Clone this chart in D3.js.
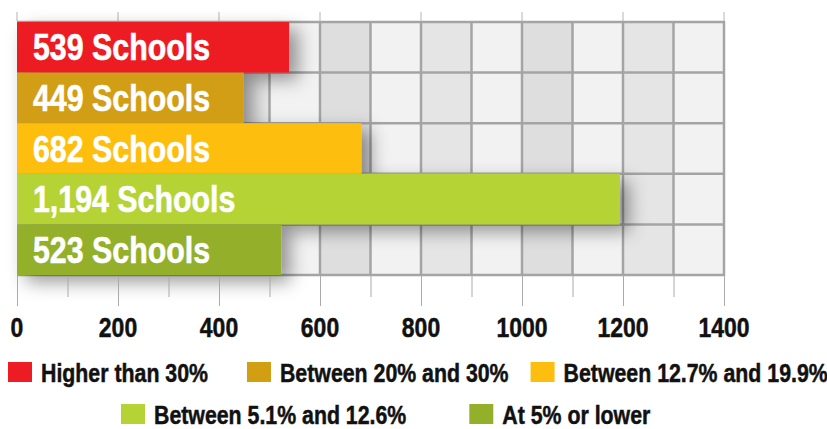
<!DOCTYPE html>
<html>
<head>
<meta charset="utf-8">
<script src="https://cdn.jsdelivr.net/npm/d3@7.9.0/dist/d3.min.js"></script>
<style>
  html, body { margin: 0; padding: 0; background: #fff; }
  svg { display: block; font-family: "Liberation Sans", Arial, sans-serif; font-weight: bold; }
</style>
</head>
<body>
<svg id="chart" width="827" height="429"></svg>
<script>
// data
const categories = ['Higher than 30%', 'Between 20% and 30%', 'Between 12.7% and 19.9%', 'Between 5.1% and 12.6%', 'At 5% or lower'];
const schools = [539, 449, 682, 1194, 523];
const barLabels = ['539 Schools', '449 Schools', '682 Schools', '1,194 Schools', '523 Schools'];
const colors = ['#ed1c24', '#d29e12', '#fdbe10', '#b5d334', '#94b02b'];
const tickValues = [0, 200, 400, 600, 800, 1000, 1200, 1400];

// no narrow font installed, so squeeze Liberation Sans like Arial Narrow
const NARROW = 0.82;

const svg = d3.select('#chart');
const defs = svg.append('defs');
const shadow = defs.append('filter').attr('id', 'shadow')
  .attr('x', '-20%').attr('y', '-30%').attr('width', '160%').attr('height', '200%');
shadow.append('feDropShadow')
  .attr('dx', 9).attr('dy', 7).attr('stdDeviation', 9)
  .attr('flood-color', '#000').attr('flood-opacity', 0.4);

let x = d3.scaleLinear().domain([0, 1400]).range([17, 724]);
let y = d3.scaleBand().domain(categories).range([22, 275]).padding(0);

const plotTop = 21, plotBottom = 276;

// background columns, one per 100
const cols = d3.range(0, 1400, 100);
const shade = (v) => {
  if ((v / 100) % 2 === 1) return '#f2f2f2';
  return (v / 200) % 2 === 1 ? '#dedede' : '#e5e5e5';
};
svg.append('g').selectAll('rect').data(cols).join('rect')
  .attr('x', d => x(d)).attr('y', plotTop)
  .attr('width', x(100) - x(0)).attr('height', plotBottom - plotTop)
  .attr('fill', shade);

// grid
const grid = svg.append('g').attr('stroke', '#a4a4a4').attr('stroke-width', 2.5);
grid.selectAll('line.v').data(d3.range(100, 1500, 100)).join('line')
  .attr('class', 'v')
  .attr('x1', d => x(d)).attr('x2', d => x(d))
  .attr('y1', plotTop).attr('y2', plotBottom);
const rowEdges = categories.map(c => y(c)).concat([y.range()[1]]);
grid.selectAll('line.h').data(rowEdges).join('line')
  .attr('class', 'h')
  .attr('x1', x(0)).attr('x2', x(1400) + 1)
  .attr('y1', d => d).attr('y2', d => d);

// top ticks
svg.append('g').attr('stroke', '#b4b4b4').attr('stroke-width', 1)
  .selectAll('line').data(tickValues).join('line')
  .attr('x1', d => x(d)).attr('x2', d => x(d))
  .attr('y1', 12).attr('y2', plotTop);

// bars
const bars = svg.append('g').attr('filter', 'url(#shadow)');
bars.selectAll('rect').data(schools).join('rect')
  .attr('x', x(0))
  .attr('y', (d, i) => y(categories[i]))
  .attr('width', d => x(d) - x(0))
  .attr('height', y.bandwidth())
  .attr('fill', (d, i) => colors[i]);

svg.append('g').selectAll('text').data(barLabels).join('text')
  .attr('transform', (d, i) => `translate(33,${y(categories[i]) + y.bandwidth() / 2 + 13}) scale(${NARROW},1)`)
  .attr('fill', '#fff')
  .attr('stroke', '#fff').attr('stroke-width', 0.6)
  .attr('font-size', 37)
  .text(d => d);

// bottom axis
const axis = d3.axisBottom(x).tickValues(d3.range(0, 1500, 100)).tickSize(0).tickFormat('');
const ax = svg.append('g').attr('transform', `translate(0,${plotBottom})`).call(axis);
ax.select('.domain').remove();
ax.selectAll('.tick line')
  .attr('stroke', '#aaaaaa')
  .attr('y2', d => d % 200 === 0 ? 30 : 21);

svg.append('g').selectAll('text').data(tickValues).join('text')
  .attr('transform', d => `translate(${x(d)},337) scale(${NARROW},1)`)
  .attr('text-anchor', 'middle')
  .attr('font-size', 28)
  .attr('fill', '#111').attr('stroke', '#111').attr('stroke-width', 0.5)
  .text(d => d);

// legend: two rows
const legendRows = [[0, 1, 2], [3, 4]];
const legendStart = [8, 121];
const legendGap = [[39, 22], [63]];
const legendBase = [382, 424];
const leg = svg.append('g');
legendRows.forEach((row, r) => {
  let cx = legendStart[r];
  row.forEach((idx, k) => {
    const g = leg.append('g');
    g.append('rect')
      .attr('x', cx).attr('y', legendBase[r] - 20)
      .attr('width', 24).attr('height', 20)
      .attr('fill', colors[idx]);
    const t = g.append('text')
      .attr('transform', `translate(${cx + 33},${legendBase[r]}) scale(${NARROW},1)`)
      .attr('font-size', 26).attr('fill', '#111')
      .attr('stroke', '#111').attr('stroke-width', 0.5)
      .text(categories[idx]);
    const w = t.node().getComputedTextLength() * NARROW;
    cx = cx + 33 + w + (legendGap[r][k] || 0);
  });
});
</script>
</body>
</html>
